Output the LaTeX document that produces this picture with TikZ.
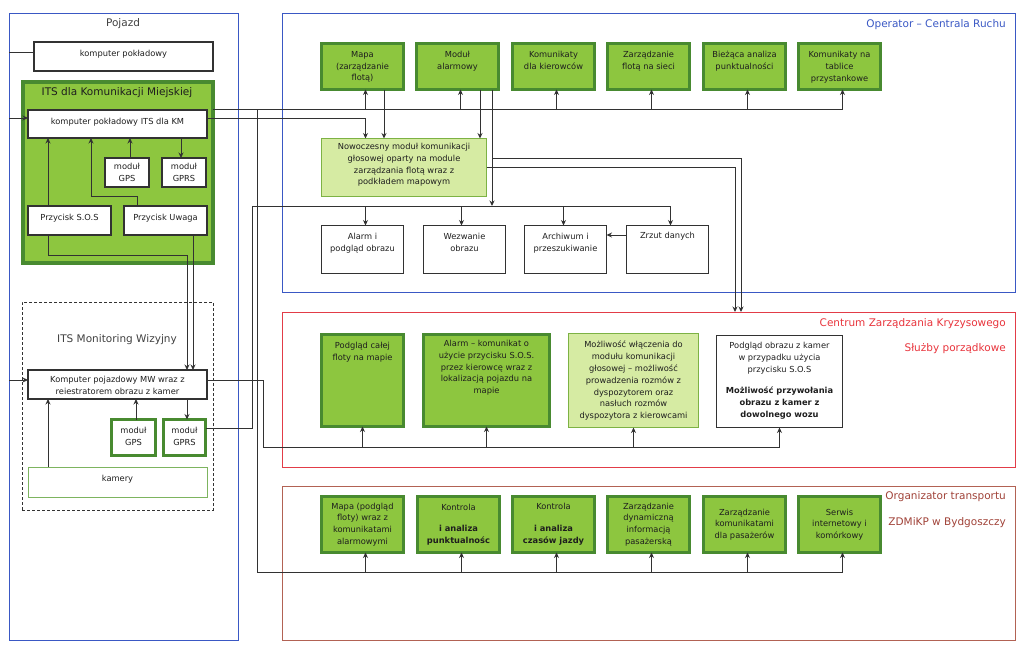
\documentclass[tikz,border=0pt]{standalone}
\usepackage{fontspec}
\setmainfont{DejaVu Sans}
\usetikzlibrary{arrows.meta}
\definecolor{gfill}{RGB}{141,198,63}
\definecolor{gdark}{RGB}{72,138,48}
\definecolor{lgfill}{RGB}{214,235,163}
\definecolor{lgline}{RGB}{125,178,68}
\definecolor{kline}{RGB}{125,180,95}
\definecolor{bluep}{RGB}{58,88,196}
\definecolor{redp}{RGB}{226,60,72}
\definecolor{redt}{RGB}{232,52,60}
\definecolor{brownp}{RGB}{178,98,84}
\definecolor{brownt}{RGB}{160,66,56}
\definecolor{txt}{RGB}{30,30,30}
\definecolor{conn}{RGB}{50,50,50}
\newcommand{\bxfont}{\fontsize{8.3}{11.8}\selectfont}
\newcommand{\ttlfont}{\fontsize{10.5}{13}\selectfont}
\begin{document}
\begin{tikzpicture}[x=1pt,y=-1pt,
 place/.style n args={4}{at={(#1,#2)},anchor=north west,minimum width=#3pt,minimum height=#4pt,inner sep=0pt,outer sep=0pt},
 wbox/.style={draw=conn,line width=1.1pt,fill=white},
 gbox/.style={draw=gdark,line width=3pt,fill=gfill},
 lgbox/.style={draw=lgline,line width=1pt,fill=lgfill},
 mbox/.style={draw=gdark,line width=3pt,fill=white},
 kbox/.style={draw=kline,line width=1pt,fill=white},
 bpan/.style={draw=bluep,line width=1pt},
 rpan/.style={draw=redp,line width=1pt},
 brpan/.style={draw=brownp,line width=1pt},
 dpan/.style={draw=black!80,line width=1pt,dash pattern=on 3pt off 2pt},
 itspan/.style={draw=gdark,line width=4pt,fill=gfill},
 tl/.style={anchor=north,align=center,inner sep=0pt,yshift=#1,font=\bxfont,text=txt},
 tl/.default=-7.5pt,
 ctext/.style={align=center,font=\bxfont,text=txt},
 ttl/.style={font=\ttlfont,text=txt!85,inner sep=0pt},
 cn/.style={draw=conn,line width=0.9pt},
 arr/.style={-{Stealth[length=5.5pt,width=5pt]}}
]
\useasboundingbox (0,0) rectangle (1024,648);
% ---------- panels ----------
\node[bpan, place={9}{13}{229}{627}] (pojazd) {};
\node[ttl] (pojazdt) at (123,24) {Pojazd};
\node[bpan, place={282}{13}{733}{279}] (oper) {};
\node[ttl, text=bluep, anchor=east] (opert) at (1006,25) {Operator – Centrala Ruchu};
\node[rpan, place={282}{312}{733}{155}] (red) {};
\node[ttl, text=redt, anchor=east] (crt1) at (1006,324) {Centrum Zarządzania Kryzysowego};
\node[ttl, text=redt, anchor=east] (crt2) at (1006,349) {Służby porządkowe};
\node[brpan, place={282}{486}{733}{154}] (org) {};
\node[ttl, text=brownt, anchor=east] (orgt1) at (1006,497) {Organizator transportu};
\node[ttl, text=brownt, anchor=east] (orgt2) at (1006,523) {ZDMiKP w Bydgoszczy};
\node[dpan, place={22}{302}{191}{208}] (mwp) {};
\node[ttl] (mwt) at (117,340) {ITS Monitoring Wizyjny};
\node[itspan, place={22.5}{82}{190}{181}] (its) {};
\node[ttl, text=txt] (itst) at (117,93) {ITS dla Komunikacji Miejskiej};
% ---------- left boxes ----------
\node[wbox, place={34}{42}{179}{29}, label={[tl]north:{komputer pokładowy}}] (kp) {};
\node[wbox, place={28}{110}{179}{28}, label={[tl]north:{komputer pokładowy ITS dla KM}}] (km) {};
\node[wbox, place={105}{158}{44}{29}, label={[tl=-5pt]north:{moduł\\GPS}}] (gps) {};
\node[wbox, place={162}{158}{44}{29}, label={[tl=-5pt]north:{moduł\\GPRS}}] (gprs) {};
\node[wbox, place={28}{206}{83}{29}, label={[tl]north:{Przycisk S.O.S}}] (sos) {};
\node[wbox, place={124}{206}{83}{29}, label={[tl]north:{Przycisk Uwaga}}] (uw) {};
\node[wbox, place={28}{370}{179}{29}, label={[tl=-6pt]north:{Komputer pojazdowy MW wraz z\\reiestratorem obrazu z kamer}}] (mw) {};
\node[mbox, place={111.5}{419.5}{44}{36}, label={[tl]north:{moduł\\GPS}}] (mgps) {};
\node[mbox, place={163.5}{419.5}{42}{36}, label={[tl]north:{moduł\\GPRS}}] (mgprs) {};
\node[kbox, place={28}{467}{179}{30}, label={[tl]north:{kamery}}] (kam) {};
% ---------- operator ----------
\node[gbox, place={321.5}{43.5}{82}{46}, label={[tl]north:{Mapa\\(zarządzanie\\flotą)}}] (op1) {};
\node[gbox, place={416.5}{43.5}{82}{46}, label={[tl]north:{Moduł\\alarmowy}}] (op2) {};
\node[gbox, place={512.5}{43.5}{82}{46}, label={[tl]north:{Komunikaty\\dla kierowców}}] (op3) {};
\node[gbox, place={607.5}{43.5}{82}{46}, label={[tl]north:{Zarządzanie\\flotą na sieci}}] (op4) {};
\node[gbox, place={703.5}{43.5}{82}{46}, label={[tl]north:{Bieżąca analiza\\punktualności}}] (op5) {};
\node[gbox, place={798.5}{43.5}{82}{46}, label={[tl]north:{Komunikaty na\\tablice\\przystankowe}}] (op6) {};
\node[lgbox, place={321.5}{138.5}{165}{58}, label={[tl=-4.5pt]north:{Nowoczesny moduł komunikacji\\głosowej oparty na module\\zarządzania flotą wraz z\\podkładem mapowym}}] (now) {};
\node[wbox, place={321.5}{225.5}{82}{48}, label={[tl]north:{Alarm i\\podgląd obrazu}}] (ob1) {};
\node[wbox, place={423.5}{225.5}{82}{48}, label={[tl]north:{Wezwanie\\obrazu}}] (ob2) {};
\node[wbox, place={524.5}{225.5}{82}{48}, label={[tl]north:{Archiwum i\\przeszukiwanie}}] (ob3) {};
\node[wbox, place={626.5}{225.5}{82}{48}, label={[tl=-6.5pt]north:{Zrzut danych}}] (ob4) {};
% ---------- crisis centre ----------
\node[gbox, place={321.5}{334.5}{82}{92}, label={[tl]north:{Podgląd całej\\floty na mapie}}] (rb1) {};
\node[gbox, place={423.5}{334.5}{126}{92}, label={[tl=-5.5pt]north:{Alarm – komunikat o\\użycie przycisku S.O.S.\\przez kierowcę wraz z\\lokalizacją pojazdu na\\mapie}}] (rb2) {};
\node[lgbox, place={568.5}{333.5}{130}{94}, label={[tl]north:{Możliwość włączenia do\\modułu komunikacji\\głosowej – możliwość\\prowadzenia rozmów z\\dyspozytorem oraz\\nasłuch rozmów\\dyspozytora z kierowcami}}] (rb3) {};
\node[wbox, place={716.5}{335.5}{126}{92}, label={[tl=-6.5pt]north:{Podgląd obrazu z kamer\\w przypadku użycia\\przycisku S.O.S\\[10pt]\textbf{Możliwość przywołania}\\\textbf{obrazu z kamer z}\\\textbf{dowolnego wozu}}}] (rb4) {};
% ---------- organiser ----------
\node[gbox, ctext, place={321.5}{496.5}{82}{56}] (bb1) {Mapa (podgląd\\floty) wraz z\\komunikatami\\alarmowymi};
\node[gbox, ctext, place={417.5}{496.5}{82}{56}] (bb2) {Kontrola\\[10pt]\textbf{i analiza}\\\textbf{punktualnośc}};
\node[gbox, ctext, place={512.5}{496.5}{82}{56}] (bb3) {Kontrola\\[10pt]\textbf{i analiza}\\\textbf{czasów jazdy}};
\node[gbox, ctext, place={607.5}{496.5}{82}{56}] (bb4) {Zarządzanie\\dynamiczną\\informacją\\pasażerską};
\node[gbox, ctext, place={703.5}{496.5}{82}{56}] (bb5) {Zarządzanie\\komunikatami\\dla pasażerów};
\node[gbox, ctext, place={798.5}{496.5}{82}{56}] (bb6) {Serwis\\internetowy i\\komórkowy};
% ---------- helper coordinates ----------
\coordinate (ykp) at (0,52);
\coordinate (ykm) at (0,118);
\coordinate (ymw) at (0,380);
\coordinate (yb1) at (0,109);
\coordinate (yb3) at (0,206);
\coordinate (yb4) at (0,447);
\coordinate (yb5) at (0,572);
\coordinate (ym1) at (0,158);
\coordinate (yzr) at (0,235);
\coordinate (ysd) at (0,255);
\coordinate (yuw) at (0,196);
\coordinate (ygr) at (0,428);
\coordinate (xs) at (48,0);
\coordinate (xu1) at (137,0);
\coordinate (xu2) at (91,0);
\coordinate (xg) at (130,0);
\coordinate (xr) at (181,0);
\coordinate (xa) at (187,0);
\coordinate (xb) at (193,0);
\coordinate (xmg) at (136,0);
\coordinate (xv1) at (252,0);
\coordinate (xv2) at (257,0);
\coordinate (xv3) at (263,0);
\coordinate (xmd) at (384,0);
\coordinate (xa1) at (480,0);
\coordinate (xa2) at (492,0);
\coordinate (xr1) at (735,0);
\coordinate (xr2) at (741,0);
% ---------- connectors: vehicle ----------
\draw[cn] (pojazd.west |- ykp) -- (kp.west |- ykp);
\draw[cn,arr] (pojazd.west |- ykm) -- (km.west |- ykm);
\draw[cn,arr] (pojazd.west |- ymw) -- (mw.west |- ymw);
\draw[cn,arr] (xs |- sos.north) -- (xs |- km.south);
\draw[cn,arr] (xu1 |- uw.north) -- (xu1 |- yuw) -- (xu2 |- yuw) -- (xu2 |- km.south);
\draw[cn,arr] (xg |- gps.north) -- (xg |- km.south);
\draw[cn,arr] (xr |- km.south) -- (xr |- gprs.north);
\draw[cn,arr] (xs |- sos.south) -- (xs |- ysd) -- (xa |- ysd) -- (xa |- mw.north);
\draw[cn,arr] (xb |- uw.south) -- (xb |- mw.north);
\draw[cn,arr] (xmg |- mgps.north) -- (xmg |- mw.south);
\draw[cn,arr] (xa |- mw.south) -- (xa |- mgprs.north);
\draw[cn,arr] (xs |- kam.north) -- (xs |- mw.south);
% ---------- connectors: operator ----------
\draw[cn] (its.east |- yb1) -- ([xshift=3pt]op6.south |- yb1);
\foreach \n in {op1,op2,op3,op4,op5,op6}
  \draw[cn,arr] ([xshift=3pt]\n.south |- yb1) -- ([xshift=3pt]\n.south);
\draw[cn,arr] (km.east |- ykm) -| ([xshift=3pt]op1.south |- now.north);
\draw[cn,arr] (xmd |- op1.south) -- (xmd |- now.north);
\draw[cn,arr] (xa1 |- op2.south) -- (xa1 |- now.north);
\draw[cn,arr] (xa2 |- op2.south) -- (xa2 |- yb3);
\draw[cn,arr] (xa2 |- ym1) -| (xr2 |- red.north);
\draw[cn,arr] (now.east) -| (xr1 |- red.north);
\draw[cn] (xv1 |- yb3) -- ([xshift=3pt]ob4.north |- yb3);
\foreach \n/\s in {ob1/3,ob2/-3,ob3/-2,ob4/3}
  \draw[cn,arr] ([xshift=\s pt]\n.north |- yb3) -- ([xshift=\s pt]\n.north);
\draw[cn,arr] (ob4.west |- yzr) -- (ob3.east |- yzr);
\draw[cn] (mgprs.east |- ygr) -| (xv1 |- yb3);
% ---------- connectors: crisis centre ----------
\draw[cn] (mw.east |- ymw) -| (xv3 |- yb4) -- (rb4.south |- yb4);
\foreach \n in {rb1,rb2,rb3,rb4}
  \draw[cn,arr] (\n.south |- yb4) -- (\n.south);
% ---------- connectors: organiser ----------
\draw[cn] (xv2 |- yb1) |- ([xshift=3pt]bb6.south |- yb5);
\foreach \n in {bb1,bb2,bb3,bb4,bb5,bb6}
  \draw[cn,arr] ([xshift=3pt]\n.south |- yb5) -- ([xshift=3pt]\n.south);
\end{tikzpicture}
\end{document}
